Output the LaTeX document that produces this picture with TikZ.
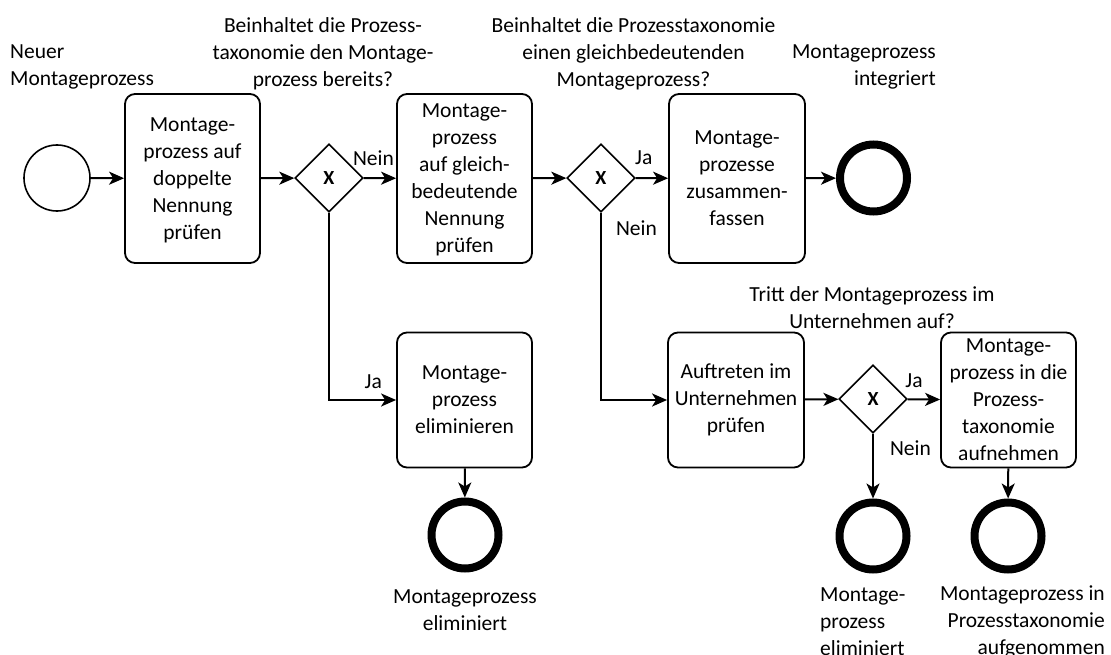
\documentclass[tikz,border=0pt]{standalone}
\usepackage{fontspec}
\setmainfont{Carlito}
\usetikzlibrary{shapes.geometric,arrows.meta,calc}

\tikzset{
  txt/.style={inner sep=0pt, font=\fontsize{21.5}{27}\selectfont},
  task/.style={txt, draw, line width=1.8pt, rounded corners=10pt, align=center,
               minimum width=#1, minimum height=169pt},
  task/.default=135pt,
  gateway/.style={draw, diamond, line width=1.6pt, minimum size=68pt, inner sep=0pt,
                  font=\bfseries\fontsize{20}{22}\selectfont},
  startev/.style={draw, circle, line width=1.6pt, minimum size=66pt, inner sep=0pt},
  endev/.style={draw, circle, line width=8pt, minimum size=67pt, inner sep=0pt},
  flow/.style={line width=2pt, -{Stealth[length=15pt,width=13pt,inset=4pt]}},
  lbl/.style={txt},
}

\begin{document}
\begin{tikzpicture}[x=1pt, y=-1pt]
\useasboundingbox (0,0) rectangle (1111,655);

% events, tasks and gateways
\node[startev] (start) at (57,178) {};
\node[task, text depth=0pt] (pruef1) at (192.5,178.5) {Montage-\\prozess auf\\doppelte\\Nennung\\prüfen};
\node[gateway] (gw1) at (329,178) {X};
\node[task, text depth=0pt] (pruef2) at (464.5,178.5) {Montage-\\prozess\\auf gleich-\\bedeutende\\Nennung\\prüfen};
\node[gateway] (gw2) at (601,178) {X};
\node[task=136pt] (zusf) at (737,178.5) {Montage-\\prozesse\\zusammen-\\fassen};
\node[endev] (endint) at (873.5,178) {};

\node[task, minimum height=135pt] (elim) at (464.5,400) {Montage-\\prozess\\eliminieren};
\node[endev] (endelim) at (465,535) {};

\node[task=136pt, minimum height=135pt] (auftr) at (736,400) {Auftreten im\\Unternehmen\\prüfen};
\node[gateway] (gw3) at (873,399) {X};
\node[task=135pt, minimum height=135pt] (aufn) at (1008.5,400) {Montage-\\prozess in die\\Prozess-\\taxonomie\\aufnehmen};
\node[endev] (endelim2) at (873,536) {};
\node[endev] (endaufn) at (1008,536) {};

% annotations
\node[txt, align=left, anchor=west] (tstart) at (10,67) {Neuer\\Montageprozess};
\node[txt, align=center] (q1) at (323,54) {Beinhaltet die Prozess-\\taxonomie den Montage-\\prozess bereits?};
\node[txt, align=center] (q2) at (633.5,54) {Beinhaltet die Prozesstaxonomie\\einen gleichbedeutenden\\Montageprozess?};
\node[txt, align=right, anchor=east] (tint) at (936,67) {Montageprozess\\integriert};
\node[txt, align=center] (q3) at (872,308) {Tritt der Montageprozess im\\Unternehmen auf?};
\node[txt, align=center] (telim) at (465,610) {Montageprozess\\eliminiert};
\node[txt, align=left, anchor=west] (telim2) at (820,622) {Montage-\\prozess\\eliminiert};
\node[txt, align=right, anchor=east] (taufn) at (1105,622) {Montageprozess in\\Prozesstaxonomie\\aufgenommen};

% sequence flows
\draw[flow] (start) -- (pruef1);
\draw[flow] (pruef1) -- (gw1);
\draw[flow] (gw1) -- node[lbl, above=12pt, pos=0.3] {Nein} (pruef2);
\draw[flow] (pruef2) -- (gw2);
\draw[flow] (gw2) -- node[lbl, above=12pt, pos=0.25] {Ja} (zusf);
\draw[flow] (zusf) -- (endint);
\draw[flow] (gw1.south) |- node[lbl, above=10pt, pos=0.83] {Ja} (elim.west);
\draw[flow] (elim) -- (endelim);
\draw[flow] (gw2.south) |- node[lbl, anchor=west, pos=0.04, xshift=14pt] {Nein} (auftr.west);
\draw[flow] (auftr) -- (gw3);
\draw[flow] (gw3) -- node[lbl, above=11pt, pos=0.2] {Ja} (aufn);
\draw[flow] (gw3.south) -- node[lbl, anchor=west, pos=0.22, xshift=16pt] {Nein} (endelim2);
\draw[flow] (aufn) -- (endaufn);
\end{tikzpicture}
\end{document}
